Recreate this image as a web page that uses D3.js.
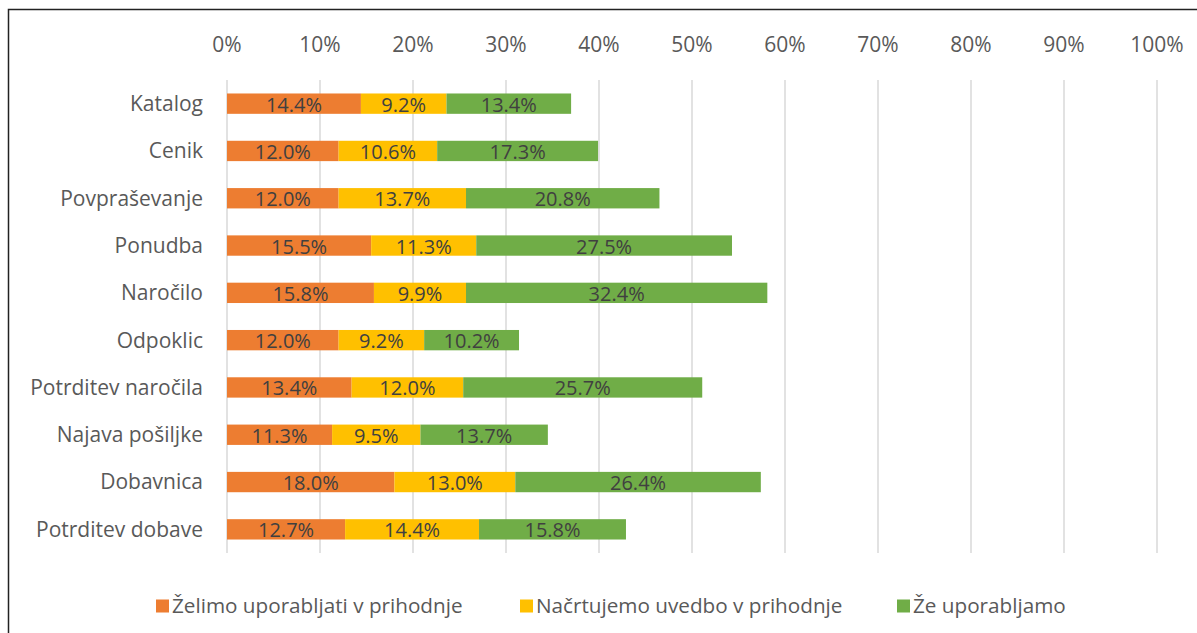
<!DOCTYPE html>
<html>
<head>
<meta charset="utf-8">
<title>Stacked bars</title>
<script src="https://d3js.org/d3.v7.min.js"></script>
<style>
body {
	margin: 0;
	background-color: white;
	font-family: "Open Sans", Lato, sans-serif;
}
.frame {
	fill: none;
	stroke: #222;
	stroke-width: 1.5;
}
.grid line {
	stroke: #d9d9d9;
	stroke-width: 1.5;
}
.tick-label, .cat-label, .legend-label {
	fill: #595959;
}
.tick-label {
	font-size: 21px;
}
.cat-label {
	font-size: 21px;
}
.legend-label {
	font-size: 20.7px;
}
.value-label {
	fill: #404040;
	font-size: 20px;
}
</style>
</head>
<body>
<svg id="chart" width="1197" height="633"></svg>
<script>
/* globals d3 */
"use strict";

const categories = ["Katalog", "Cenik", "Povpraševanje", "Ponudba", "Naročilo",
	"Odpoklic", "Potrditev naročila", "Najava pošiljke", "Dobavnica", "Potrditev dobave"];
const seriesNames = ["Želimo uporabljati v prihodnje", "Načrtujemo uvedbo v prihodnje", "Že uporabljamo"];
const seriesColors = ["#ed7d31", "#ffc000", "#70ad47"];
const wantValues = [14.4, 12.0, 12.0, 15.5, 15.8, 12.0, 13.4, 11.3, 18.0, 12.7];
const planValues = [9.2, 10.6, 13.7, 11.3, 9.9, 9.2, 12.0, 9.5, 13.0, 14.4];
const useValues = [13.4, 17.3, 20.8, 27.5, 32.4, 10.2, 25.7, 13.7, 26.4, 15.8];
const tickValues = [0, 10, 20, 30, 40, 50, 60, 70, 80, 90, 100];

function main()
{
	const svg = d3.select("#chart");
	const rows = categories.map((c, i) => ({
		cat: c, s0: wantValues[i], s1: planValues[i], s2: useValues[i]
	}));
	const stack = d3.stack().keys(["s0", "s1", "s2"])(rows);

	const x = d3.scaleLinear([0, 100], [227, 1157]);
	const y = d3.scaleBand(categories, [80, 553]).paddingInner(0.57).paddingOuter(0.285);

	svg.append("path")
		.attr("class", "frame")
		.attr("d", "M8.5,640V9.5H1200");

	const grid = svg.append("g").attr("class", "grid");
	grid.selectAll("line")
		.data(tickValues)
		.join("line")
			.attr("x1", d => x(d)).attr("x2", d => x(d))
			.attr("y1", 80).attr("y2", 553);

	svg.append("g").selectAll("text")
		.data(tickValues)
		.join("text")
			.attr("class", "tick-label")
			.attr("x", d => x(d))
			.attr("y", 52)
			.attr("text-anchor", "middle")
			.text(d => d + "%");

	svg.append("g").selectAll("text")
		.data(categories)
		.join("text")
			.attr("class", "cat-label")
			.attr("x", 203)
			.attr("y", d => y(d) + y.bandwidth() / 2)
			.attr("dy", "0.35em")
			.attr("text-anchor", "end")
			.text(d => d);

	const layers = svg.append("g").selectAll("g")
		.data(stack)
		.join("g")
			.attr("fill", (d, i) => seriesColors[i]);

	layers.selectAll("rect")
		.data(d => d)
		.join("rect")
			.attr("x", d => x(d[0]))
			.attr("y", d => y(d.data.cat))
			.attr("width", d => x(d[1]) - x(d[0]))
			.attr("height", y.bandwidth());

	layers.selectAll("text")
		.data(d => d)
		.join("text")
			.attr("class", "value-label")
			.attr("x", d => (x(d[0]) + x(d[1])) / 2)
			.attr("y", d => y(d.data.cat) + y.bandwidth() / 2)
			.attr("dy", "0.4em")
			.attr("text-anchor", "middle")
			.text(d => (d[1] - d[0]).toFixed(1) + "%");

	const legendX = [156, 520, 897];
	const legend = svg.append("g").selectAll("g")
		.data(seriesNames)
		.join("g")
			.attr("transform", (d, i) => "translate(" + legendX[i] + ",606)");
	legend.append("rect")
		.attr("x", 0).attr("y", -6.5)
		.attr("width", 13).attr("height", 13)
		.attr("fill", (d, i) => seriesColors[i]);
	legend.append("text")
		.attr("class", "legend-label")
		.attr("x", 16)
		.attr("dy", "0.35em")
		.text(d => d);
}
main();
</script>
</body>
</html>
